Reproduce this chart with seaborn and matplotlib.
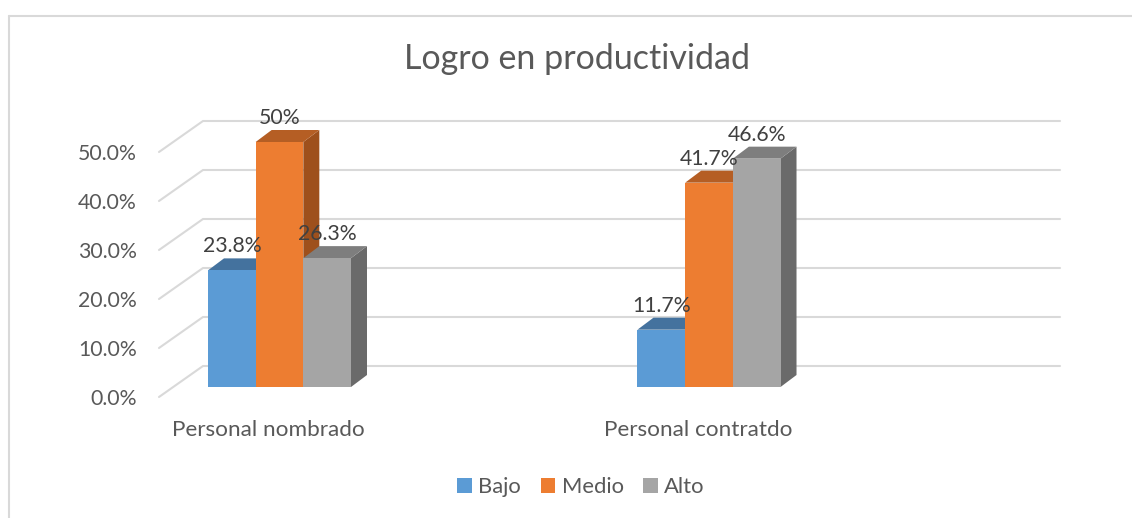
import numpy as np
import pandas as pd
import seaborn as sns
import matplotlib.pyplot as plt
from matplotlib.patches import Polygon
from matplotlib.lines import Line2D
from matplotlib.transforms import IdentityTransform

# datos
grupos = ['Personal nombrado', 'Personal contratdo']
niveles = ['Bajo', 'Medio', 'Alto']
bajo = [23.8, 11.7]
medio = [50.0, 41.7]
alto = [26.3, 46.6]
etiquetas = [['23.8%', '11.7%'], ['50%', '41.7%'], ['26.3%', '46.6%']]
yticks = [0, 10, 20, 30, 40, 50]
ytick_labels = ['0.0%', '10.0%', '20.0%', '30.0%', '40.0%', '50.0%']

colores = ['#5B9BD5', '#ED7D31', '#A5A5A5']
techo = ['#44729E', '#B55E24', '#7E7E7E']
lado = ['#3F6B94', '#9E501C', '#6A6A6A']

W, H, DPI = 1132, 518, 100

sns.set_style('white')
plt.rcParams['font.family'] = ['Lato', 'DejaVu Sans']

df = pd.DataFrame({'grupo': grupos * 3,
                   'nivel': np.repeat(niveles, len(grupos)),
                   'valor': bajo + medio + alto})

fi = plt.figure(figsize=(W / DPI, H / DPI), dpi=DPI)
ax = fi.add_axes([173.7 / W, 131 / H, 857 / W, 269.5 / H])

sns.barplot(data=df, x='grupo', y='valor', hue='nivel',
            order=grupos, hue_order=niveles, palette=colores,
            saturation=1, width=0.333, linewidth=0, ax=ax)

handles, labels = ax.get_legend_handles_labels()
if ax.get_legend() is not None:
    ax.get_legend().remove()

ax.set_xlim(-0.2463, 1.749)
ax.set_ylim(0, 55)
ax.axis('off')

idt = IdentityTransform()
x0, x1 = ax.get_xlim()

# perspectiva (pixeles)
fdx, fdy = -14.7, -10     # borde frontal del piso
bdx, bdy = 29.3, 21       # pared del fondo
ddx, ddy = 16, 12         # profundidad de barra

grid_c = '#D9D9D9'
txt_c = '#595959'

for v, lab in zip(yticks, ytick_labels):
    p = ax.transData.transform((x0, v))
    q = ax.transData.transform((x1, v))
    xs = [p[0] + fdx, p[0] + bdx, q[0] + bdx]
    ys = [p[1] + fdy, p[1] + bdy, q[1] + bdy]
    ax.add_line(Line2D(xs, ys, transform=idt, color=grid_c, lw=1.5,
                       clip_on=False, zorder=1))
    ax.text(p[0] + fdx - 22, p[1] + fdy - 2, lab, transform=idt, ha='right',
            va='center', fontsize=15.3, color=txt_c)

for h, cont in enumerate(ax.containers):
    for j, bar in enumerate(cont.patches):
        bx0 = bar.get_x()
        bx1 = bx0 + bar.get_width()
        val = bar.get_height()
        (a, yb) = ax.transData.transform((bx0, 0))
        (b, yt) = ax.transData.transform((bx1, val))
        z = 3 + 3 * h
        side = Polygon([(b, yb), (b + ddx, yb + ddy), (b + ddx, yt + ddy), (b, yt)],
                       closed=True, transform=idt, facecolor=lado[h],
                       edgecolor='none', clip_on=False, zorder=z)
        top = Polygon([(a, yt), (b, yt), (b + ddx, yt + ddy), (a + ddx, yt + ddy)],
                      closed=True, transform=idt, facecolor=techo[h],
                      edgecolor='none', clip_on=False, zorder=z + 1)
        ax.add_patch(side)
        ax.add_patch(top)
        bar.set_zorder(z + 2)
        bar.set_clip_on(False)
        ax.annotate(etiquetas[h][j], xy=((bx0 + bx1) / 2, val),
                    xytext=(0, 24), textcoords='offset pixels',
                    ha='center', va='center', fontsize=15.3, color='#404040',
                    zorder=20, annotation_clip=False)

for j, g in enumerate(grupos):
    p = ax.transData.transform((j, 0))
    ax.text(p[0] - 11, p[1] - 43, g, transform=idt, ha='center', va='center',
            fontsize=16.2, color=txt_c)

fi.text(577 / W, 1 - 59 / H, 'Logro en productividad', ha='center',
        va='center', fontsize=24.5, color=txt_c)

fi.legend(handles, labels, loc='center', bbox_to_anchor=(581 / W, 1 - 487 / H),
          ncol=3, frameon=False, fontsize=15.8, handlelength=0.65,
          handleheight=0.7, handletextpad=0.3, columnspacing=0.9,
          labelcolor=txt_c)

# marco del grafico
fi.add_artist(Line2D([9 / W, 9 / W], [0, 1 - 16 / H], transform=fi.transFigure,
                     color=grid_c, lw=1.5))
fi.add_artist(Line2D([9 / W, 1], [1 - 16 / H, 1 - 16 / H], transform=fi.transFigure,
                     color=grid_c, lw=1.5))

fi.savefig('out.png', dpi=DPI)
